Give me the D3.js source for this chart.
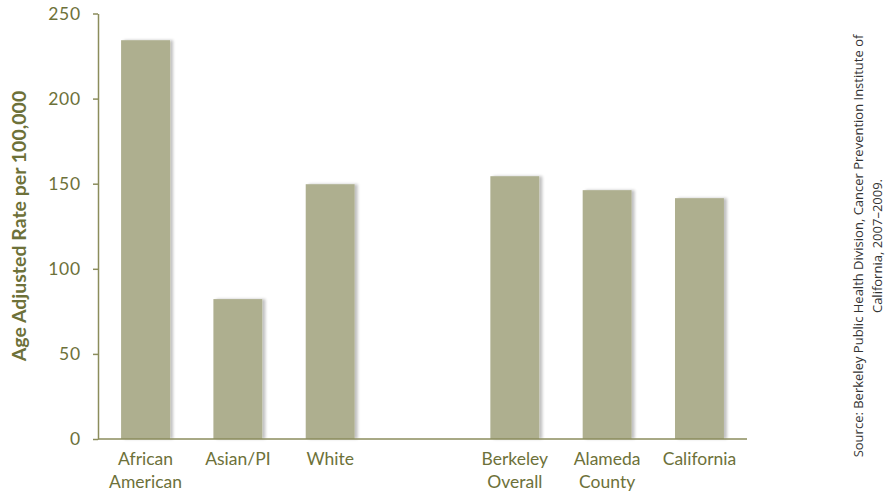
<!DOCTYPE html>
<html><head><meta charset="utf-8">
<script src="https://cdn.jsdelivr.net/npm/d3@7"></script>
<style>body{margin:0;background:#fff}svg{display:block}</style>
</head><body>
<svg id="c" width="895" height="493"></svg>
<script>
const categories = ["African American", "Asian/PI", "White", "", "Berkeley Overall", "Alameda County", "California"];
const labelLines = [["African","American"],["Asian/PI"],["White"],[],["Berkeley","Overall"],["Alameda","County"],["California"]];
const values = [234.3, 82.2, 149.7, null, 154.4, 146.2, 141.5];
const yTicks = [0, 50, 100, 150, 200, 250];
const yTitle = "Age Adjusted Rate per 100,000";
const sourceLines = ["Source: Berkeley Public Health Division, Cancer Prevention Institute of", "California, 2007\u20132009."];

const svg = d3.select("#c");
const olive = "#6d7139", axisCol = "#8b8d5c", barCol = "#aeaf8f";
const fontF = "'Gill Sans','Gill Sans MT',Lato,'Open Sans',sans-serif";

const x = d3.scaleBand().domain(categories).range([98, 747]).paddingInner(0.47).paddingOuter(0.25);
const y = d3.scaleLinear().domain([0, 250]).range([439, 13.5]);

const defs = svg.append("defs");
const f = defs.append("filter").attr("id","sh").attr("x","-20%").attr("y","-5%").attr("width","150%").attr("height","115%");
f.append("feGaussianBlur").attr("in","SourceAlpha").attr("stdDeviation",1.5);
f.append("feOffset").attr("dx",3).attr("dy",0).attr("result","ob");
f.append("feComponentTransfer").append("feFuncA").attr("type","linear").attr("slope",0.25);
const m = f.append("feMerge"); m.append("feMergeNode"); m.append("feMergeNode").attr("in","SourceGraphic");

const data = categories.map((c,i)=>({c, v: values[i], lines: labelLines[i]}));
svg.append("g").selectAll("rect").data(data.filter(d=>d.v!=null)).join("rect")
  .attr("x", d=>x(d.c)).attr("width", x.bandwidth())
  .attr("y", d=>y(d.v)).attr("height", d=>y(0)-y(d.v))
  .attr("fill", barCol).attr("filter","url(#sh)");

// y axis
const yAxis = svg.append("g").attr("transform","translate(98,0)")
  .call(d3.axisLeft(y).tickValues(yTicks).tickSize(5).tickPadding(12).tickSizeOuter(0));
yAxis.select(".domain").attr("stroke", axisCol).attr("stroke-width",1.5);
yAxis.selectAll(".tick line").attr("stroke", axisCol).attr("stroke-width",1.5);
yAxis.selectAll(".tick text").attr("fill", olive).attr("font-size", 17.5).attr("font-family", fontF)
  .attr("letter-spacing", 0.8);

// x baseline
svg.append("line").attr("x1",98).attr("x2",747).attr("y1",y(0)).attr("y2",y(0))
  .attr("stroke", axisCol).attr("stroke-width",1.5);

// category labels
const lg = svg.append("g");
data.forEach(d=>{
  d.lines.forEach((t,j)=>{
    lg.append("text").attr("x", x(d.c)+x.bandwidth()/2).attr("y", 465 + j*23)
      .attr("text-anchor","middle").attr("fill", olive).attr("font-size",17.5)
      .attr("font-family", fontF).text(t);
  });
});

// y title
svg.append("text").attr("transform","translate(26,226) rotate(-90)")
  .attr("text-anchor","middle").attr("fill", olive).attr("font-weight","bold")
  .attr("font-size",19.5).attr("font-family", fontF).text(yTitle);

// source
sourceLines.forEach((t,i)=>{
  svg.append("text").attr("transform",`translate(${863+i*19},246) rotate(-90)`)
    .attr("text-anchor","middle").attr("fill","#333").attr("font-size",13)
    .attr("font-family","'Open Sans',sans-serif").text(t);
});
</script>
</body></html>
